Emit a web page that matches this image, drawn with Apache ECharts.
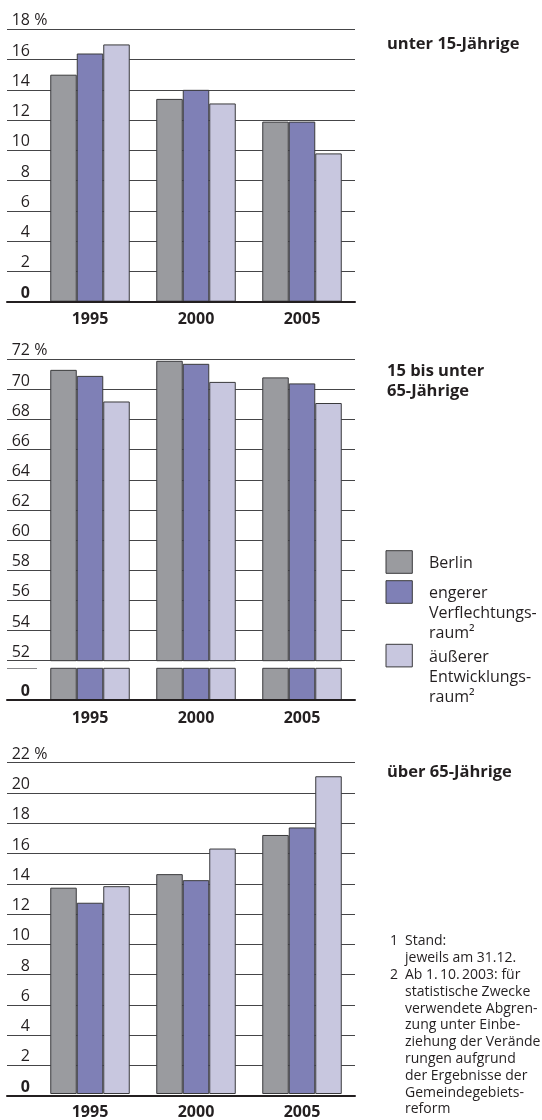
<!DOCTYPE html>
<html>
<head>
<meta charset="utf-8">
<script src="https://cdn.jsdelivr.net/npm/echarts@6/dist/echarts.min.js"></script>
<style>
  html, body { margin: 0; padding: 0; background: #fff; }
  #chart { width: 542px; height: 1120px; }
</style>
</head>
<body>
<div id="chart"></div>
<script>
const years = ['1995', '2000', '2005'];
const seriesNames = ['Berlin', 'engerer Verflechtungsraum', 'äußerer Entwicklungsraum'];
const legendLabels = ['Berlin', 'engerer\nVerflechtungs-\nraum²', 'äußerer\nEntwicklungs-\nraum²'];
const seriesColors = ['#9a9b9f', '#7f80b6', '#c8c7df'];

// unter 15-Jährige (%)
const under15Berlin = [15.0, 13.4, 11.9];
const under15Inner = [16.4, 14.0, 11.9];
const under15Outer = [17.0, 13.1, 9.8];

// 15 bis unter 65-Jährige (%)
const workingBerlin = [71.3, 71.9, 70.8];
const workingInner = [70.9, 71.7, 70.4];
const workingOuter = [69.2, 70.5, 69.1];

// über 65-Jährige (%)
const over65Berlin = [13.7, 14.6, 17.2];
const over65Inner = [12.7, 14.2, 17.7];
const over65Outer = [13.8, 16.3, 21.1];

// y scales: [min, max, step]
const under15Ticks = [0, 18, 2];
const workingTicks = [52, 72, 2];
const workingStubTicks = [0, 52, 52];
const over65Ticks = [0, 22, 2];

const panelTitles = ['unter 15-Jährige', '15 bis unter\n65-Jährige', 'über 65-Jährige'];
const footnote1 = 'Stand:\njeweils am 31.12.';
const footnote2 = 'Ab 1.\u200910.\u20092003: für\nstatistische Zwecke\nverwendete Abgren-\nzung unter Einbe-\nziehung der Verände\nrungen aufgrund\nder Ergebnisse der\nGemeindegebiets-\nreform';

const FONT = '"Open Sans", "Noto Sans", sans-serif';
const INK = '#231f20';

const grid = [];
const xAxis = [];
const yAxis = [];
const series = [];

const labelRich = {
  n: { width: 19, align: 'right', fontSize: 16, fontFamily: FONT, color: INK, lineHeight: 17 },
  z: { width: 19, align: 'right', fontSize: 16, fontFamily: FONT, color: INK, lineHeight: 17, fontWeight: 'bold' },
  p: { align: 'right', fontSize: 16, fontFamily: FONT, color: INK, lineHeight: 17 }
}

function yLabel(max) {
  return (v) => {
    if (v === 0) return '{z|0}'
    if (v === max) return '{n|' + v + '}{p| %}'
    return '{n|' + v + '}'
  }
}

// grid carrying the y scale, gridlines and the base line
function addScaleGrid(top, height, left, width, ticks, baseLine, formatter, lineColor) {
  const i = grid.length
  grid.push({ left, top, width, height })
  xAxis.push({
    gridIndex: i, type: 'value', min: 0, max: 1, show: baseLine, z: 5,
    axisLine: { show: true, lineStyle: { color: INK, width: 2 } },
    axisTick: { show: false }, axisLabel: { show: false }, splitLine: { show: false }
  })
  yAxis.push({
    gridIndex: i, type: 'value', min: ticks[0], max: ticks[1], interval: ticks[2],
    axisLine: { show: false }, axisTick: { show: false },
    splitLine: { lineStyle: { color: lineColor || '#454547', width: 1 } },
    axisLabel: {
      inside: true, margin: 4, verticalAlign: 'bottom', formatter, rich: labelRich,
      fontSize: 16, fontFamily: FONT, color: INK
    }
  })
}

// grid carrying the bars and the year axis
function addBarGrid(top, height, ticks, dataSets, showYears, baseLine) {
  const i = grid.length
  grid.push({ left: 37, top, width: 318, height })
  xAxis.push({
    gridIndex: i, type: 'category', data: years, show: showYears, z: 5,
    axisLine: { show: !!baseLine, lineStyle: { color: INK, width: 2 } },
    axisTick: { length: 6, lineStyle: { color: INK, width: 1 } },
    axisLabel: { margin: 10, color: INK, fontFamily: FONT, fontSize: 16, fontWeight: 'bold' }
  })
  yAxis.push({ gridIndex: i, type: 'value', min: ticks[0], max: ticks[1], show: false })
  dataSets.forEach((d, k) => {
    series.push({
      type: 'bar', name: seriesNames[k], xAxisIndex: i, yAxisIndex: i, data: d,
      barWidth: 26.5, barGap: '0%', clip: true, silent: true,
      itemStyle: { color: seriesColors[k], borderColor: '#3a3a3c', borderWidth: 1 }
    })
  })
}

// panel 1
addScaleGrid(29.3, 272.4, 7, 348, under15Ticks, true, yLabel(18))
addBarGrid(29.3, 272.4, under15Ticks, [under15Berlin, under15Inner, under15Outer], true)

// panel 2 (broken axis)
addScaleGrid(359.3, 301.4, 7, 348, workingTicks, false, yLabel(72))
addBarGrid(359.3, 301.4, workingTicks, [workingBerlin, workingInner, workingOuter], false)
addScaleGrid(668.3, 31.7, 7, 30, [0, 1, 1], true, (v) => (v === 0 ? '{z|0}' : ''), '#8a8a8c')
addBarGrid(668.3, 31.7, workingStubTicks, [workingBerlin, workingInner, workingOuter], true, true)

// panel 3
addScaleGrid(762.7, 333, 7, 348, over65Ticks, true, yLabel(22))
addBarGrid(762.7, 333, over65Ticks, [over65Berlin, over65Inner, over65Outer], true)

const graphic = []
const titleText = (text, x, y, va) => ({
  type: 'text', x, y, silent: true,
  style: { text, fill: INK, fontFamily: FONT, fontSize: 16.5, fontWeight: 'bold', verticalAlign: va, lineHeight: 19.5 }
})
graphic.push(titleText(panelTitles[0], 387, 44, 'middle'))
graphic.push(titleText(panelTitles[1], 387, 362, 'top'))
graphic.push(titleText(panelTitles[2], 387, 772, 'middle'))

const legendTops = [550.7, 580.7, 644.3]
legendTops.forEach((t, k) => {
  graphic.push({
    type: 'rect', silent: true,
    shape: { x: 386, y: t, width: 26.3, height: 22.6 },
    style: { fill: seriesColors[k], stroke: '#3a3a3c', lineWidth: 1 }
  })
  graphic.push({
    type: 'text', x: 429, y: t + 2.9, silent: true,
    style: { text: legendLabels[k], fill: INK, fontFamily: FONT, fontSize: 16, lineHeight: 20, verticalAlign: 'top' }
  })
})

const noteStyle = { fill: INK, fontFamily: FONT, fontSize: 14, lineHeight: 16.8, verticalAlign: 'top' }
graphic.push({ type: 'text', x: 390, y: 933, silent: true, style: Object.assign({ text: '1' }, noteStyle) })
graphic.push({ type: 'text', x: 405, y: 933, silent: true, style: Object.assign({ text: footnote1 }, noteStyle) })
graphic.push({ type: 'text', x: 390, y: 966.6, silent: true, style: Object.assign({ text: '2' }, noteStyle) })
graphic.push({ type: 'text', x: 405, y: 966.6, silent: true, style: Object.assign({ text: footnote2 }, noteStyle) })

const chart = echarts.init(document.getElementById('chart'))
chart.setOption({
  animation: false,
  textStyle: { fontFamily: FONT },
  grid,
  xAxis,
  yAxis,
  series,
  graphic
})
</script>
</body>
</html>
